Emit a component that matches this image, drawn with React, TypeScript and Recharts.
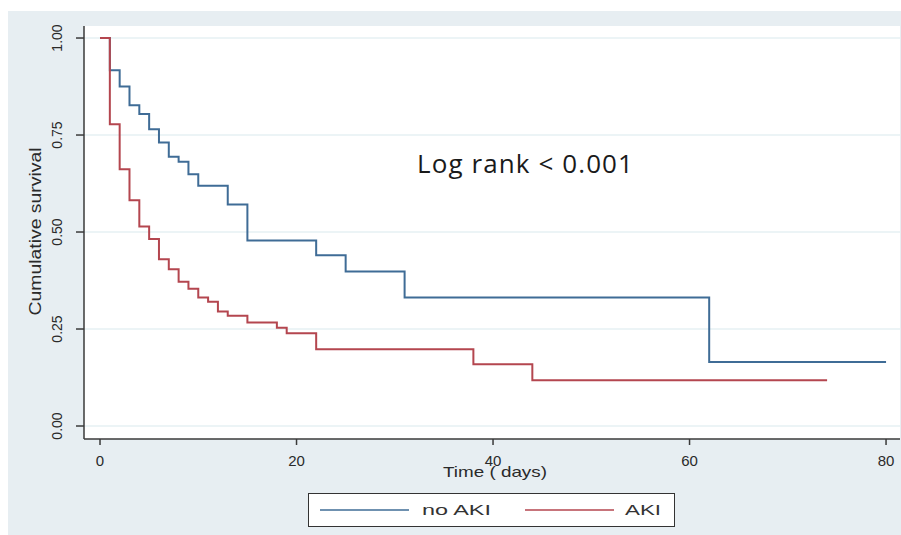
import React from 'react'
import {
  LineChart, Line, XAxis, YAxis, CartesianGrid, Legend, Label,
} from 'recharts'

// Kaplan-Meier steps (time in days, survival fraction)
const noAkiTime = [0, 1, 2, 3, 4, 5, 6, 7, 8, 9, 10, 13, 15, 22, 25, 31, 62, 80]
const noAkiSurv = [1, 0.917, 0.875, 0.827, 0.804, 0.765, 0.731, 0.694, 0.681, 0.649, 0.619, 0.571, 0.478, 0.44, 0.398, 0.331, 0.165, 0.165]

const akiTime = [0, 1, 2, 3, 4, 5, 6, 7, 8, 9, 10, 11, 12, 13, 15, 18, 19, 22, 38, 44, 74]
const akiSurv = [1, 0.778, 0.662, 0.582, 0.514, 0.482, 0.43, 0.404, 0.372, 0.354, 0.331, 0.32, 0.295, 0.284, 0.267, 0.253, 0.239, 0.198, 0.159, 0.118, 0.118]

const xTicks = [0, 20, 40, 60, 80]
const yTicks = [0, 0.25, 0.5, 0.75, 1]

const seriesNames = ['no AKI', 'AKI']
const BLUE = '#3f6c96'
const RED = '#b4464f'
const AXIS = '#3a3a3a'
const FONT = 'Arial, "Liberation Sans", sans-serif'

const noAkiData = noAkiTime.map((t, i) => ({ t, s: noAkiSurv[i] }))
const akiData = akiTime.map((t, i) => ({ t, s: akiSurv[i] }))

function YTick({ x, y, payload }: { x?: number; y?: number; payload?: { value: number } }) {
  const tx = (x ?? 0) - 12
  return (
    <text
      x={tx}
      y={y}
      transform={`rotate(-90, ${tx}, ${y})`}
      textAnchor="middle"
      fontSize={14}
      fontFamily={FONT}
      fill="#2a2a2a"
    >
      {payload?.value.toFixed(2)}
    </text>
  )
}

function XTick({ x, y, payload }: { x?: number; y?: number; payload?: { value: number } }) {
  return (
    <text x={x} y={(y ?? 0) + 19} textAnchor="middle" fontSize={15} fontFamily={FONT} fill="#2a2a2a">
      {payload?.value}
    </text>
  )
}

// legend text in the figure is stretched wide, so fix its length
const legendTextLen = [69, 36]
const legendItemW = [205, 160]
const legendTextX = [113, 111]

function KmLegend() {
  const colors = [BLUE, RED]
  return (
    <div
      style={{
        width: 365, height: 32, border: '1px solid #333', background: '#fff',
        display: 'flex', alignItems: 'center', boxSizing: 'content-box',
      }}
    >
      {seriesNames.map((name, i) => (
        <svg key={name} width={legendItemW[i]} height={32} style={{ display: 'block', flex: 'none' }}>
          <line x1={11} x2={100} y1={16} y2={16} stroke={colors[i]} strokeWidth={1.5} />
          <text
            x={legendTextX[i]}
            y={21}
            fontSize={14}
            fontFamily={FONT}
            fill="#333"
            textLength={legendTextLen[i]}
            lengthAdjust="spacingAndGlyphs"
          >
            {name}
          </text>
        </svg>
      ))}
    </div>
  )
}

export default function App() {
  return (
    <div style={{ position: 'absolute', left: 0, top: 0, width: 901, height: 535, background: '#fff' }}>
      <div style={{ position: 'absolute', left: 8, top: 11, width: 893, height: 524, background: '#e7eef2' }} />
      <div style={{ position: 'absolute', left: 0, top: 0 }}>
        <LineChart width={901} height={535} margin={{ top: 26, right: 1, bottom: 0, left: 0 }}>
          <CartesianGrid
            vertical={false}
            fill="#ffffff"
            stroke="#e6f0f3"
            strokeWidth={1.5}
            horizontalValues={yTicks}
          />
          <XAxis
            type="number"
            dataKey="t"
            domain={[-1.63, 81.42]}
            ticks={xTicks}
            allowDataOverflow
            height={96}
            tickSize={6}
            axisLine={{ stroke: AXIS, strokeWidth: 1.5 }}
            tickLine={{ stroke: AXIS, strokeWidth: 1.5 }}
            tick={<XTick />}
          >
            <Label
              content={({ viewBox }: any) => (
                <text
                  x={viewBox.x + viewBox.width / 2 + 3}
                  y={viewBox.y + 38}
                  textAnchor="middle"
                  fontSize={15}
                  fontFamily={FONT}
                  fill="#2a2a2a"
                  textLength={104}
                  lengthAdjust="spacingAndGlyphs"
                >
                  Time ( days)
                </text>
              )}
            />
          </XAxis>
          <YAxis
            type="number"
            domain={[-0.0335, 1.031]}
            ticks={yTicks}
            allowDataOverflow
            width={84}
            tickSize={8}
            axisLine={{ stroke: AXIS, strokeWidth: 1.5 }}
            tickLine={{ stroke: AXIS, strokeWidth: 1.5 }}
            tick={<YTick />}
          >
            <Label
              content={({ viewBox }: any) => {
                const cx = 41
                const cy = viewBox.y + viewBox.height / 2 - 1
                return (
                  <text
                    x={cx}
                    y={cy}
                    transform={`rotate(-90, ${cx}, ${cy})`}
                    textAnchor="middle"
                    fontSize={16}
                    fontFamily={FONT}
                    fill="#2a2a2a"
                    textLength={168}
                    lengthAdjust="spacingAndGlyphs"
                  >
                    Cumulative survival
                  </text>
                )
              }}
            />
          </YAxis>
          <Legend
            layout="horizontal"
            verticalAlign="middle"
            align="center"
            wrapperStyle={{ position: 'absolute', left: 308, top: 493, width: 367, height: 34 }}
            content={<KmLegend />}
          />
          <Line
            data={noAkiData}
            dataKey="s"
            name={seriesNames[0]}
            type="stepAfter"
            stroke={BLUE}
            strokeWidth={2}
            dot={false}
            activeDot={false}
            isAnimationActive={false}
          />
          <Line
            data={akiData}
            dataKey="s"
            name={seriesNames[1]}
            type="stepAfter"
            stroke={RED}
            strokeWidth={2}
            dot={false}
            activeDot={false}
            isAnimationActive={false}
          />
        </LineChart>
      </div>
      <div
        style={{
          position: 'absolute', left: 417, top: 150, fontFamily: '"Open Sans", sans-serif',
          fontSize: 26, lineHeight: 1, letterSpacing: 1.1, color: '#1a1a1a', whiteSpace: 'nowrap',
        }}
      >
        Log rank &lt; 0.001
      </div>
    </div>
  )
}
